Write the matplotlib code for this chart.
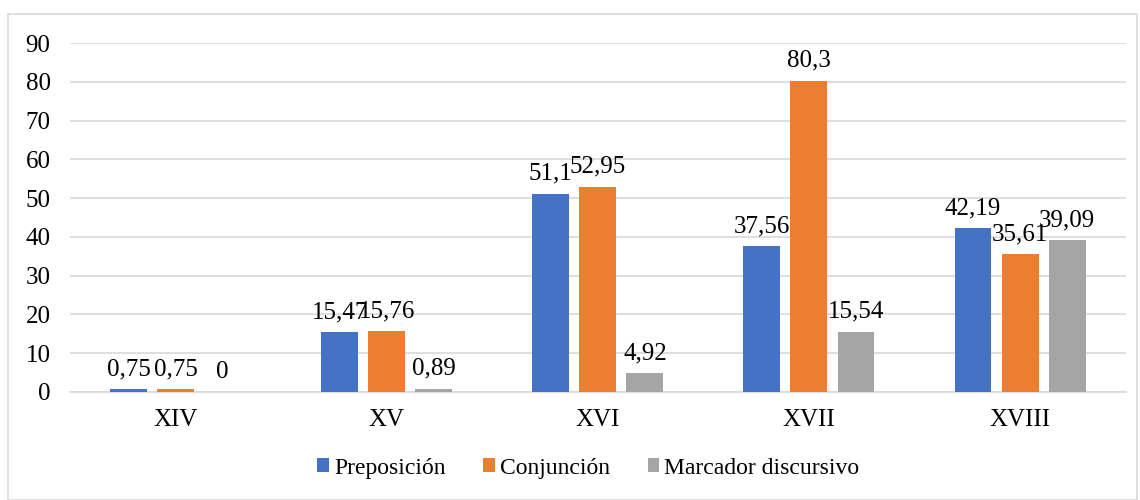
import matplotlib.pyplot as plt
from matplotlib.patches import Rectangle
import numpy as np

plt.rcParams['font.family'] = ['Liberation Serif', 'DejaVu Serif']

# Data
centuries = ['XIV', 'XV', 'XVI', 'XVII', 'XVIII']
preposicion = [0.75, 15.47, 51.1, 37.56, 42.19]
conjuncion = [0.75, 15.76, 52.95, 80.3, 35.61]
marcador = [0, 0.89, 4.92, 15.54, 39.09]

series = [
    ('Preposición', preposicion, '#4472C4'),
    ('Conjunción', conjuncion, '#ED7D31'),
    ('Marcador discursivo', marcador, '#A5A5A5'),
]

def fmt(v):
    s = ('%.2f' % v).rstrip('0').rstrip('.')
    return s.replace('.', ',')

fig = plt.figure(figsize=(11.4, 5), dpi=100)
ax = fig.add_axes([0.0614, 0.216, 0.926, 0.698])

# Light border around the whole chart, like Excel's chart area
fig.patches.append(Rectangle((8 / 1140, 0.0), 1129 / 1140, 486 / 500,
                             transform=fig.transFigure, fill=False,
                             edgecolor='#d9d9d9', linewidth=1.2))

x = np.arange(len(centuries))
width = 0.175
step = 0.223
for i, (name, vals, color) in enumerate(series):
    pos = x + (i - 1) * step
    ax.bar(pos, vals, width, color=color, label=name, zorder=3)
    for xp, v in zip(pos, vals):
        ax.text(xp, v + 2.3, fmt(v), ha='center', va='bottom', fontsize=18)

ax.set_xlim(-0.5, len(centuries) - 0.5)
ax.set_ylim(0, 90)
ax.set_yticks(range(0, 91, 10))
ax.set_xticks(x)
ax.set_xticklabels(centuries)
ax.tick_params(axis='both', length=0, labelsize=18)
ax.tick_params(axis='y', pad=14)
ax.tick_params(axis='x', pad=12)
ax.grid(axis='y', color='#d9d9d9', linewidth=1.2, zorder=0)
for s in ['left', 'right', 'top']:
    ax.spines[s].set_visible(False)
ax.spines['bottom'].set_color('#d9d9d9')
ax.spines['bottom'].set_linewidth(1.2)

ax.legend(loc='center', bbox_to_anchor=(0.491, -0.218), ncol=3, frameon=False,
          fontsize=17, handlelength=0.5, handleheight=0.5, handletextpad=0.2,
          columnspacing=1.6)

fig.savefig('out.png', dpi=100)
